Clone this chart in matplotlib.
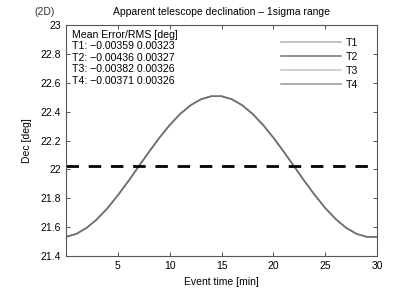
import matplotlib
matplotlib.use("Agg")
import matplotlib.pyplot as plt
from matplotlib.ticker import FuncFormatter

plt.rcParams['font.family'] = ['Liberation Sans', 'DejaVu Sans']

time_min = list(range(0, 31))
dec_deg = [21.533, 21.554, 21.596, 21.656, 21.732, 21.821, 21.918, 22.020,
           22.122, 22.219, 22.308, 22.384, 22.444, 22.486, 22.507, 22.507,
           22.486, 22.444, 22.384, 22.308, 22.219, 22.122, 22.020, 21.918,
           21.821, 21.732, 21.656, 21.596, 21.554, 21.533, 21.533]
series_names = ["T1", "T2", "T3", "T4"]
series_colors = ["#b0b0b0", "#707070", "#c4c4c4", "#969696"]
mean_err = ["\u22120.00359", "\u22120.00436", "\u22120.00382", "\u22120.00371"]
rms = ["0.00323", "0.00327", "0.00326", "0.00326"]
ref_dec = 22.025
xticks = [5, 10, 15, 20, 25, 30]
yticks = [21.4, 21.6, 21.8, 22.0, 22.2, 22.4, 22.6, 22.8, 23.0]

fig = plt.figure(figsize=(4.15, 3.02), dpi=100)
ax = fig.add_axes([0.159, 0.152, 0.750, 0.765])

order = [0, 2, 3, 1]
handles = {}
for i in order:
    h, = ax.plot(time_min, dec_deg, color=series_colors[i], lw=1.1,
                 label=series_names[i])
    handles[i] = h
ax.axhline(ref_dec, color="black", lw=2.0, dashes=(4.5, 3.5))

ax.set_xlim(0, 30)
ax.set_ylim(21.4, 23.0)
ax.set_xticks(xticks)
ax.set_yticks(yticks)
ax.yaxis.set_major_formatter(FuncFormatter(lambda v, p: "%g" % round(v, 2)))
ax.tick_params(direction="in", length=3, width=0.6, labelsize=7.5,
               top=True, right=True, colors="#333333", labelcolor="black")
for s in ax.spines.values():
    s.set_color("#555555")
    s.set_linewidth(0.8)

ax.set_xlabel("Event time [min]", fontsize=7.5, labelpad=4)
ax.set_ylabel("Dec [deg]", fontsize=7.5, labelpad=6)
ax.set_title("Apparent telescope declination \u2013 1sigma range", fontsize=7.5, pad=7)
fig.text(0.108, 0.96, "(2D)", fontsize=7.5, color="#333333", ha="center", va="center")

lines = ["Mean Error/RMS [deg]"] + [
    "%s: %s %s" % (n, m, r) for n, m, r in zip(series_names, mean_err, rms)]
ax.text(0.018, 0.98, "\n".join(lines), transform=ax.transAxes, fontsize=7.6,
        va="top", ha="left", linespacing=1.2)

leg = ax.legend([handles[i] for i in range(4)], series_names,
                loc="upper right", bbox_to_anchor=(0.937, 0.945), frameon=False,
                fontsize=7.6, handlelength=5.6, handletextpad=0.45,
                labelspacing=0.38, borderaxespad=0.0, borderpad=0.0)

fig.savefig("out.png", dpi=100)
